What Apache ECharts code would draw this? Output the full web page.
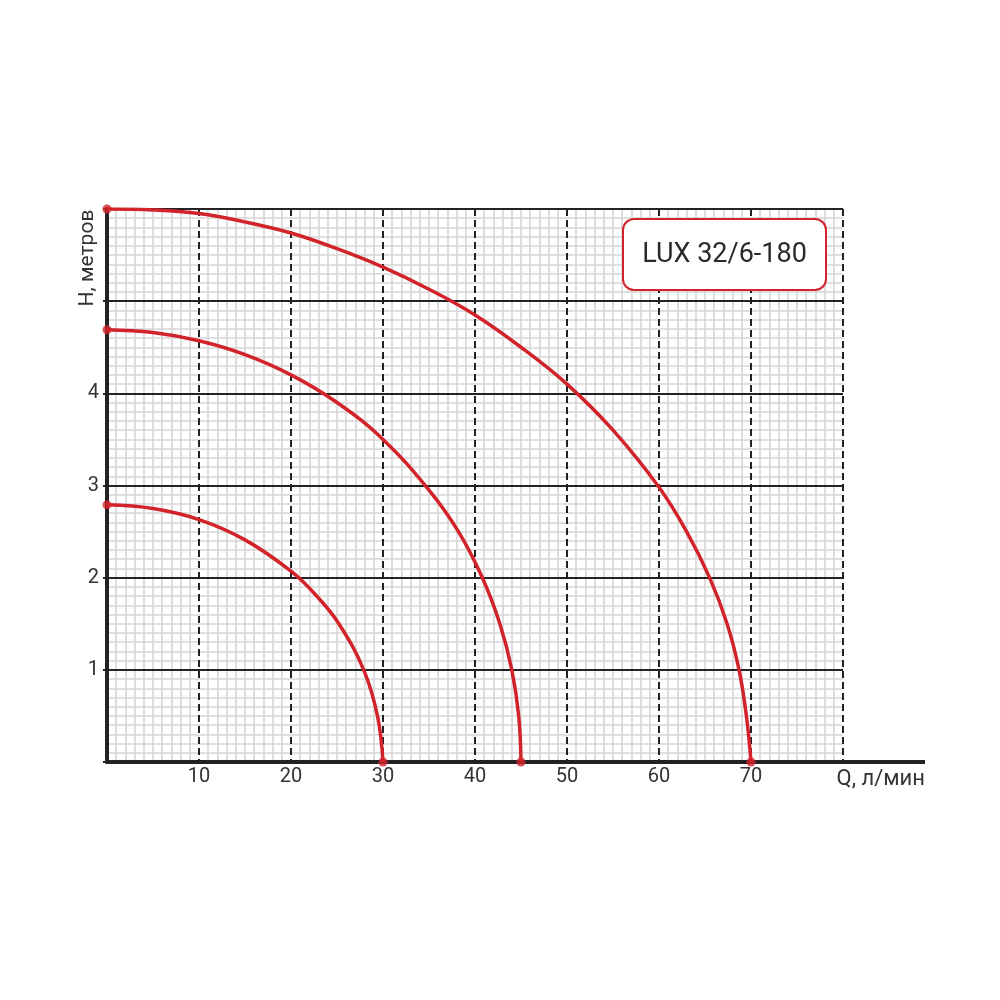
<!DOCTYPE html>
<html>
<head>
<meta charset="utf-8">
<script src="https://cdn.jsdelivr.net/npm/echarts@6/dist/echarts.min.js"></script>
<style>html,body{margin:0;padding:0;background:#fff}#c{width:1000px;height:1000px}</style>
</head>
<body>
<div id="c"></div>
<script>
// Curve data (Q л/мин, H метров)
var curveTop = [[0,6],[5,5.99],[10,5.95],[15,5.86],[20,5.74],[25,5.57],[30,5.37],[35,5.13],[40,4.85],[45,4.5],[50,4.1],[55,3.6],[60,2.98],[63,2.5],[65.5,2],[67.4,1.5],[68.7,1],[69.5,0.5],[70,0]];
var curveMid = [[0,4.69],[5,4.66],[10,4.57],[15,4.42],[20,4.2],[25,3.9],[30,3.5],[35,2.95],[38.2,2.5],[40.8,2],[42.7,1.5],[44,1],[44.75,0.5],[45,0]];
var curveLow = [[0,2.79],[5,2.75],[10,2.63],[15,2.41],[20,2.07],[22.8,1.8],[25.2,1.5],[27.9,1],[29.4,0.5],[30,0]];
var endPoints = [[0,6],[70,0],[0,4.69],[45,0],[0,2.79],[30,0]];
var xTickLabels = ['10','20','30','40','50','60','70'];
var yTickLabels = ['1','2','3','4'];
var modelName = 'LUX 32/6-180';
var xName = 'Q, л/мин';
var yName = 'H, метров';

var chart = echarts.init(document.getElementById('c'));
var red = '#d2232a';
var ink = '#222';
var font = 'Roboto';
function lineSeries(d){
  return {type:'line', data:d, xAxisIndex:1, yAxisIndex:1, smooth:0.4, showSymbol:false,
    lineStyle:{color:red,width:3.5}, z:3};
}
var minorX = {type:'value', min:0, max:80, interval:10, z:0,
  axisLine:{show:false}, axisTick:{show:false}, axisLabel:{show:false}, splitLine:{show:false},
  minorTick:{show:false,splitNumber:10},
  minorSplitLine:{show:true,lineStyle:{color:'#d6d6d6',width:1.6}}};
var minorY = {type:'value', min:0, max:6, interval:1, z:0,
  axisLine:{show:false}, axisTick:{show:false}, axisLabel:{show:false}, splitLine:{show:false},
  minorTick:{show:false,splitNumber:10},
  minorSplitLine:{show:true,lineStyle:{color:'#d6d6d6',width:1.6}}};
chart.setOption({
  animation:false,
  grid:{left:107,right:157,top:209,bottom:238},
  xAxis:[minorX,{
    type:'value', min:0, max:80, interval:10, position:'bottom', z:1,
    name:xName, nameLocation:'end', nameGap:82,
    nameTextStyle:{fontFamily:font,fontSize:22,color:'#333',align:'right',verticalAlign:'top',padding:[6,0,0,0]},
    axisLine:{show:true,onZero:false,lineStyle:{color:ink,width:4}},
    axisTick:{show:false},
    axisLabel:{margin:5,fontFamily:font,fontSize:20,color:'#333',
      formatter:function(v){var s=String(v);return xTickLabels.indexOf(s)>=0?s:'';}},
    splitLine:{show:true,lineStyle:{color:ink,width:2,type:[7,4]}}
  }],
  yAxis:[minorY,{
    type:'value', min:0, max:6, interval:1, position:'left', z:1,
    axisLine:{show:true,onZero:false,lineStyle:{color:ink,width:4}},
    axisTick:{show:true,length:4,lineStyle:{color:ink,width:2}},
    axisLabel:{margin:8,fontFamily:font,fontSize:20,color:'#333',
      formatter:function(v){var s=String(v);return yTickLabels.indexOf(s)>=0?s:'';}},
    splitLine:{show:true,lineStyle:{color:ink,width:2,type:'solid'}}
  }],
  series:[
    lineSeries(curveTop),
    lineSeries(curveMid),
    lineSeries(curveLow),
    {type:'scatter', data:endPoints, xAxisIndex:1, yAxisIndex:1, symbolSize:9, itemStyle:{color:red}, z:4}
  ],
  graphic:[
    {type:'line', z:50, shape:{x1:841,y1:762,x2:925,y2:762}, style:{stroke:ink,lineWidth:4}},
    {type:'text', z:50, x:88, y:258, rotation:Math.PI/2,
      style:{text:yName,fontFamily:font,fontSize:21,fill:'#333',align:'center',verticalAlign:'middle'}},
    {type:'rect', z:60, shape:{x:623,y:219,width:203,height:71,r:11},
      style:{fill:'#fff',stroke:red,lineWidth:2}},
    {type:'text', z:61, x:724.5, y:255,
      style:{text:modelName,fontFamily:font,fontSize:27,fill:'#2a2a2a',align:'center',verticalAlign:'middle'}}
  ]
});
</script>
</body>
</html>
